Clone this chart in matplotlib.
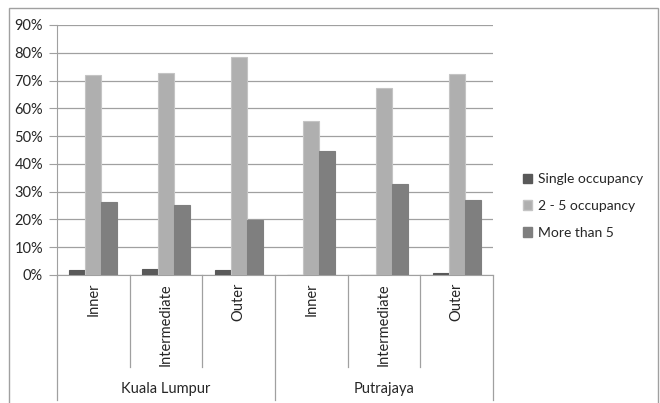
import numpy as np
import matplotlib
matplotlib.use("Agg")
import matplotlib.pyplot as plt
from matplotlib.patches import Rectangle, Patch

plt.rcParams['font.family'] = ['Lato', 'DejaVu Sans']

# data
zones = ["Inner", "Intermediate", "Outer", "Inner", "Intermediate", "Outer"]
cities = ["Kuala Lumpur", "Putrajaya"]
single = [1.8, 2.0, 1.8, 0.0, 0.0, 0.8]
two_five = [72.0, 72.8, 78.4, 55.3, 67.4, 72.3]
more_than5 = [26.2, 25.3, 19.9, 44.6, 32.6, 26.9]

series_names = ["Single occupancy", "2 - 5 occupancy", "More than 5"]
colors = ["#595959", "#afafaf", "#7f7f7f"]
edges = ["#595959", "#c4c4c4", "#7f7f7f"]

fig = plt.figure(figsize=(6.6, 4.03), dpi=100)
ax = fig.add_axes([57/660, 1-275/403, (493-57)/660, 250/403])

x = np.arange(len(zones))
w = 0.22
for i, vals in enumerate([single, two_five, more_than5]):
    ax.bar(x + (i - 1) * w, vals, w, color=colors[i], edgecolor=edges[i],
           linewidth=0.8, label=series_names[i], zorder=3)

ax.set_xlim(-0.5, len(zones) - 0.5)
ax.set_ylim(0, 90)
ax.set_yticks(np.arange(0, 91, 10))
ax.set_yticklabels([f"{v}%" for v in range(0, 91, 10)], fontsize=10.5, color="#262626")
ax.yaxis.grid(True, color="#a0a0a0", linewidth=0.9, zorder=0)
ax.tick_params(axis="y", length=6, color="#a0a0a0", pad=4)
ax.set_xticks([])
for s in ["top", "right"]:
    ax.spines[s].set_visible(False)
ax.spines["left"].set_color("#a0a0a0")
ax.spines["bottom"].set_color("#a0a0a0")

# category labels and separators
trans = ax.get_xaxis_transform()
for xi, lab in zip(x, zones):
    ax.text(xi, -0.032, lab, rotation=90, ha="center", va="top",
            fontsize=10.5, color="#262626", transform=trans)
for b in [0.5, 1.5, 3.5, 4.5]:
    ax.plot([b, b], [0, -0.368], color="#a0a0a0", lw=0.9,
            transform=trans, clip_on=False)
for b in [-0.5, 2.5, 5.5]:
    ax.plot([b, b], [0, -0.5], color="#a0a0a0", lw=0.9,
            transform=trans, clip_on=False)
for ci, city in enumerate(cities):
    ax.text(1 + 3 * ci, -0.455, city, ha="center", va="center",
            fontsize=10.5, color="#262626", transform=trans)

handles = [Patch(facecolor=colors[i], edgecolor=edges[i]) for i in range(3)]
fig.legend(handles, series_names, loc="center left",
           bbox_to_anchor=(510/660, 1-206/403), frameon=False,
           fontsize=10, handlelength=0.7, handleheight=0.7,
           handletextpad=0.4, labelspacing=1.05, labelcolor="#262626")

fig.patches.append(Rectangle((9/660, -0.05), (658-9)/660, 1.05 - 8/403,
                             transform=fig.transFigure, fill=False,
                             edgecolor="#a0a0a0", linewidth=1))

fig.savefig("out.png", dpi=100)
